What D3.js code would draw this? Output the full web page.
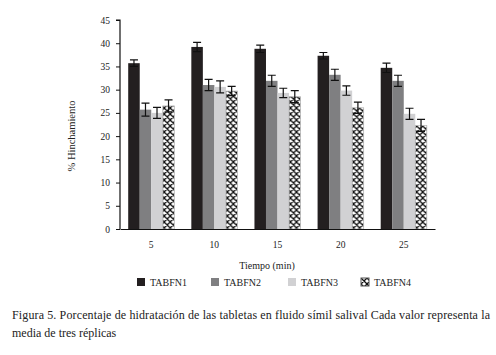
<!DOCTYPE html>
<html>
<head>
<meta charset="utf-8">
<script src="https://cdnjs.cloudflare.com/ajax/libs/d3/7.8.5/d3.min.js"></script>
<style>
  body { margin: 0; background: #fff; }
  text { font-family: "Liberation Serif", "DejaVu Serif", serif; fill: #222; }
</style>
</head>
<body>
<div id="chart"></div>
<script>
// data
const times = ['5', '10', '15', '20', '25']
const series = ['TABFN1', 'TABFN2', 'TABFN3', 'TABFN4']
const TABFN1 = [35.7, 39.2, 38.8, 37.3, 34.7]
const TABFN2 = [25.7, 31.0, 31.9, 33.2, 31.9]
const TABFN3 = [25.0, 30.6, 29.3, 29.8, 24.8]
const TABFN4 = [26.5, 29.7, 28.5, 26.1, 22.3]
const err1 = [0.7, 1.0, 0.8, 0.7, 1.0]
const err2 = [1.4, 1.2, 1.2, 1.2, 1.2]
const err3 = [1.2, 1.3, 1.0, 1.0, 1.2]
const err4 = [1.3, 1.0, 1.3, 1.2, 1.3]
const yTicks = [0, 5, 10, 15, 20, 25, 30, 35, 40, 45]

const values = [TABFN1, TABFN2, TABFN3, TABFN4]
const errors = [err1, err2, err3, err4]
const fills = ['#231f20', '#7f7f81', '#d1d1d3', 'url(#hatch)']

const svg = d3.select('#chart').append('svg')
  .attr('width', 496).attr('height', 355)

//cross hatch for TABFN4
const pat = svg.append('defs').append('pattern')
  .attr('id', 'hatch')
  .attr('patternUnits', 'userSpaceOnUse')
  .attr('width', 6).attr('height', 6)
pat.append('rect').attr('width', 6).attr('height', 6).attr('fill', '#fff')
pat.append('path')
  .attr('d', 'M0,0L6,6M6,0L0,6M-1,5L1,7M5,-1L7,1M-1,1L1,-1M5,7L7,5')
  .attr('stroke', '#111').attr('stroke-width', 1.3)

const x = d3.scaleBand().domain(times).range([120, 435]).paddingInner(0.27).paddingOuter(0.13)
const xs = d3.scaleBand().domain(series).range([0, x.bandwidth()])
const y = d3.scaleLinear().domain([0, 45]).range([229, 20])

const groups = svg.append('g').selectAll('g')
  .data(times)
  .join('g')
  .attr('transform', d => `translate(${x(d)},0)`)

series.forEach((s, si) => {
  groups.append('rect')
    .attr('x', xs(s))
    .attr('width', xs.bandwidth())
    .attr('y', (d, i) => y(values[si][i]))
    .attr('height', (d, i) => y(0) - y(values[si][i]))
    .attr('fill', fills[si])
    .attr('stroke', si === 3 ? '#bbb' : 'none')
    .attr('stroke-width', 0.8)

  //error bars
  const cx = xs(s) + xs.bandwidth() / 2
  groups.append('path')
    .attr('d', (d, i) => {
      const hi = y(values[si][i] + errors[si][i])
      const lo = y(values[si][i] - errors[si][i])
      return `M${cx - 4},${hi}H${cx + 4}M${cx},${hi}V${lo}M${cx - 4},${lo}H${cx + 4}`
    })
    .attr('stroke', '#111').attr('stroke-width', 1.2).attr('fill', 'none')
})

//axes
const yAxis = svg.append('g').attr('transform', 'translate(120,0)')
  .call(d3.axisLeft(y).tickValues(yTicks).tickSize(4).tickPadding(6))
yAxis.select('.domain').attr('stroke', '#111').attr('stroke-width', 1.2).attr('d', 'M-4,20H0V229')
yAxis.selectAll('.tick line').attr('stroke', '#111')
yAxis.selectAll('text').style('font-size', '9.5px')

const xAxis = svg.append('g').attr('transform', 'translate(0,229)')
  .call(d3.axisBottom(x).tickSize(0).tickPadding(12))
xAxis.select('.domain').attr('stroke', '#111').attr('stroke-width', 1.2)
xAxis.selectAll('text').style('font-size', '9.5px')

svg.append('text')
  .attr('transform', 'translate(75,136) rotate(-90)')
  .attr('text-anchor', 'middle')
  .style('font-size', '10.5px')
  .text('% Hinchamiento')

svg.append('text')
  .attr('x', 267).attr('y', 269)
  .attr('text-anchor', 'middle')
  .style('font-size', '10px')
  .text('Tiempo (min)')

//legend
const legX = [137, 211, 288, 361]
const legend = svg.append('g').selectAll('g')
  .data(series)
  .join('g')
  .attr('transform', (d, i) => `translate(${legX[i]},278)`)
legend.append('rect')
  .attr('width', 8).attr('height', 8)
  .attr('fill', (d, i) => fills[i])
  .attr('stroke', (d, i) => i === 3 ? '#555' : 'none')
legend.append('text')
  .attr('x', 13).attr('y', 7.5)
  .style('font-size', '10px')
  .text(d => d)

//caption
svg.append('text')
  .attr('x', 12).attr('y', 319)
  .attr('textLength', 478)
  .style('font-size', '12px')
  .text('Figura 5. Porcentaje de hidratación de las tabletas en fluido símil salival Cada valor representa la')
svg.append('text')
  .attr('x', 12).attr('y', 337)
  .style('font-size', '12px')
  .text('media de tres réplicas')
</script>
</body>
</html>
